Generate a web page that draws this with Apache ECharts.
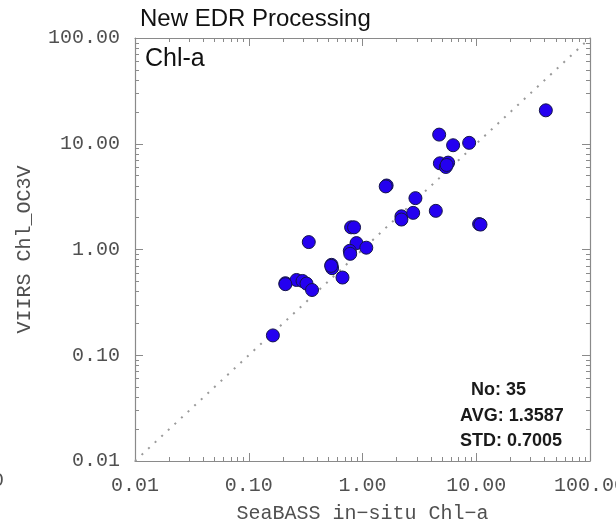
<!DOCTYPE html>
<html>
<head>
<meta charset="utf-8">
<script src="https://cdn.jsdelivr.net/npm/echarts@6/dist/echarts.min.js"></script>
<style>
  html, body { margin: 0; padding: 0; background: #ffffff; }
  #chart { width: 616px; height: 526px; }
</style>
</head>
<body>
<div id="chart"></div>
<script>
// In-situ (SeaBASS) vs satellite (VIIRS OC3V) chlorophyll-a matchups, mg/m^3
const insituChl = [40.9, 4.72, 6.26, 8.66, 4.79, 5.66, 5.40, 1.63, 2.92, 2.20, 2.20, 2.79, 4.41, 10.6,
  0.794, 0.843, 0.337, 0.886, 1.08, 0.773, 0.78, 0.534, 0.540, 0.667, 0.210, 0.263, 0.297, 0.322,
  0.360, 0.163, 1.60, 10.9, 5.5, 0.21, 0.53];
const viirsChl = [20.7, 12.2, 9.68, 10.2, 6.53, 6.63, 6.03, 4.03, 3.06, 2.06, 1.92, 2.22, 2.32, 1.74,
  1.62, 1.62, 1.175, 1.15, 1.04, 0.972, 0.910, 0.716, 0.666, 0.543, 0.480, 0.515, 0.504, 0.476,
  0.414, 0.154, 3.95, 1.72, 6.3, 0.47, 0.70];

// Axis ticks (log scale)
const decadeTicks = [0.01, 0.1, 1, 10, 100];
const minorTicks = [0.02, 0.03, 0.04, 0.05, 0.06, 0.07, 0.08, 0.09,
  0.2, 0.3, 0.4, 0.5, 0.6, 0.7, 0.8, 0.9,
  2, 3, 4, 5, 6, 7, 8, 9,
  20, 30, 40, 50, 60, 70, 80, 90];
const oneToOne = [0.01, 100];

// Summary statistics printed in the corner
const statLines = ['No: 35', 'AVG: 1.3587', 'STD: 0.7005'];

const pairs = insituChl.map((x, i) => [x, viirsChl[i]]);

const labelFont = {
  fontFamily: '"Liberation Mono", monospace',
  fontSize: 20,
  color: '#505050'
};

function makeAxis(position, ticks, len, major, name, nameGap) {
  const isX = position === 'bottom' || position === 'top';
  const showLabel = major && (position === 'bottom' || position === 'left');
  return {
    type: 'log',
    logBase: 10,
    min: 0.01,
    max: 100,
    position: position,
    name: showLabel ? name : '',
    nameLocation: 'middle',
    nameGap: nameGap,
    nameRotate: isX ? 0 : 90,
    nameTextStyle: Object.assign({}, labelFont),
    axisLine: { show: major, lineStyle: { color: '#8a8a8a', width: 1.2 } },
    axisTick: {
      show: true,
      inside: true,
      length: len,
      customValues: ticks,
      lineStyle: { color: '#8a8a8a', width: 1 }
    },
    axisLabel: {
      show: showLabel,
      customValues: decadeTicks,
      margin: 15,
      formatter: v => Number(v).toFixed(2),
      fontFamily: labelFont.fontFamily,
      fontSize: labelFont.fontSize,
      color: labelFont.color
    },
    splitLine: { show: false },
    minorTick: { show: false }
  };
}

const chart = echarts.init(document.getElementById('chart'), null, { renderer: 'canvas' });

chart.setOption({
  backgroundColor: '#ffffff',
  animation: false,
  grid: {
    left: 135,
    right: 26,
    top: 38,
    bottom: 65,
    containLabel: false,
    outerBoundsMode: 'none'
  },
  xAxis: [
    makeAxis('bottom', decadeTicks, 8, true, 'SeaBASS in\u2212situ Chl\u2212a', 43),
    makeAxis('bottom', minorTicks, 4, false, '', 0),
    makeAxis('top', decadeTicks, 8, true, '', 0),
    makeAxis('top', minorTicks, 4, false, '', 0)
  ],
  yAxis: [
    makeAxis('left', decadeTicks, 8, true, 'VIIRS Chl_OC3V', 100),
    makeAxis('left', minorTicks, 4, false, '', 0),
    makeAxis('right', decadeTicks, 8, true, '', 0),
    makeAxis('right', minorTicks, 4, false, '', 0)
  ],
  graphic: [
    {
      type: 'text', left: 140, top: 7,
      style: { text: 'New EDR Processing', font: '24px "Liberation Sans", Arial, sans-serif', fill: '#111111' }
    },
    {
      type: 'text', left: 145, top: 47,
      style: { text: 'Chl-a', font: '25px "Liberation Sans", Arial, sans-serif', fill: '#111111' }
    },
    {
      type: 'text', left: 471, top: 381,
      style: { text: statLines[0], font: 'bold 18px "Liberation Sans", Arial, sans-serif', fill: '#1a1a1a' }
    },
    {
      type: 'text', left: 460, top: 407,
      style: { text: statLines[1], font: 'bold 18px "Liberation Sans", Arial, sans-serif', fill: '#1a1a1a' }
    },
    {
      type: 'text', left: 460, top: 432,
      style: { text: statLines[2], font: 'bold 18px "Liberation Sans", Arial, sans-serif', fill: '#1a1a1a' }
    },
    {
      type: 'text', left: -8, top: 471,
      style: { text: '0', font: '20px "Liberation Mono", monospace', fill: '#505050' }
    }
  ],
  series: [
    {
      type: 'line',
      data: oneToOne.map(v => [v, v]),
      xAxisIndex: 0,
      yAxisIndex: 0,
      symbol: 'none',
      silent: true,
      lineStyle: { color: '#9a9a9a', width: 2, type: [2, 7] },
      z: 1
    },
    {
      type: 'scatter',
      data: pairs,
      xAxisIndex: 0,
      yAxisIndex: 0,
      symbol: 'circle',
      symbolSize: 13,
      itemStyle: { color: '#2400f0', borderColor: '#15154a', borderWidth: 1, opacity: 1 },
      z: 3
    }
  ]
});
</script>
</body>
</html>
